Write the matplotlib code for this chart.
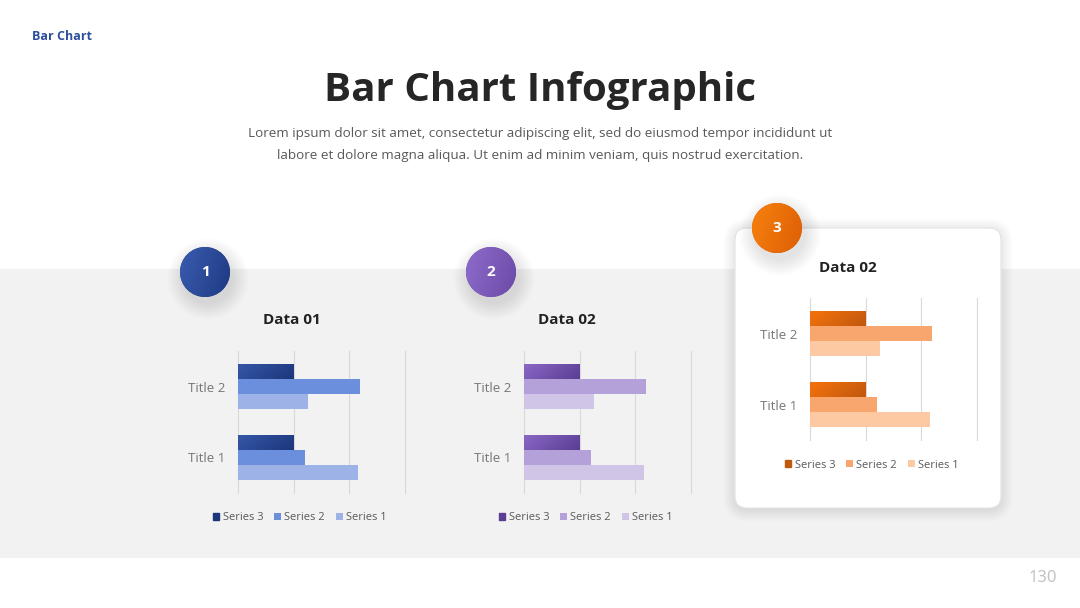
import numpy as np
import matplotlib
matplotlib.use("Agg")
import matplotlib.pyplot as plt
from matplotlib.patches import Rectangle, Circle, FancyBboxPatch
from matplotlib.colors import LinearSegmentedColormap

plt.rcParams["font.family"] = ["Open Sans", "DejaVu Sans"]

# ---------- data ---------- #
categories = ["Title 1", "Title 2"]
series_names = ["Series 1", "Series 2", "Series 3"]
series1 = [4.3, 2.5]
series2 = [2.4, 4.4]
series3 = [2.0, 2.0]
x_ticks = [0, 2, 4, 6]
chart_titles = ["Data 01", "Data 02", "Data 02"]
badges = ["1", "2", "3"]

# ---------- style ---------- #
W, H = 1080, 608
PALETTES = [
    # series1, series2, series3 light, series3 dark
    ("#9db3e8", "#6b8fdc", "#3557a8", "#1c367a"),
    ("#d0c5e6", "#b4a1d9", "#8a68c4", "#5a3d94"),
    ("#fcc9a3", "#f8a66d", "#f5720c", "#c0580e"),
]
BADGE_COLORS = [("#3a5cb0", "#1e3a82"), ("#8f6ccb", "#6a4aa8"), ("#f7810f", "#dd5f05")]
# axes boxes in pixel coords: left, top, right, bottom
AX_BOXES = [(238, 351, 405, 493), (524, 351, 691, 493), (810, 298, 977, 440)]
BADGE_POS = [(205, 272), (491, 272), (777, 228)]
TITLE_POS = [(292, 320), (567, 320), (848, 268)]
LEGEND_X = [0.37, 0.37, 0.37]

fig = plt.figure(figsize=(W / 100, H / 100), dpi=100)
bg = fig.add_axes([0, 0, 1, 1])
bg.set_xlim(0, W)
bg.set_ylim(H, 0)
bg.axis("off")

# gray band
bg.add_patch(Rectangle((0, 269), W, 289, facecolor="#f2f2f2", edgecolor="none", zorder=0))

# card for the third chart (with soft shadow)
cx0, cy0, cw, ch = 735, 228, 266, 280
for i in range(8):
    g = 1 + i * 1.6
    bg.add_patch(FancyBboxPatch((cx0 - g + 1, cy0 - g + 3), cw + 2 * g - 2, ch + 2 * g - 2,
                                boxstyle="round,pad=0,rounding_size=%.1f" % (12 + g),
                                facecolor="#000000", edgecolor="none", alpha=0.012, zorder=1))
bg.add_patch(FancyBboxPatch((cx0, cy0), cw, ch, boxstyle="round,pad=0,rounding_size=12",
                            facecolor="white", edgecolor="#e3e3e3", linewidth=0.8, zorder=2))


def gradient_fill(ax, patch, c_light, c_dark, extent, zorder):
    cmap = LinearSegmentedColormap.from_list("g", [c_light, c_dark])
    xx, yy = np.meshgrid(np.linspace(0, 1, 64), np.linspace(0, 1, 64))
    grad = 0.75 * xx + 0.25 * yy
    im = ax.imshow(grad, extent=extent, cmap=cmap, aspect="auto",
                   interpolation="bilinear", zorder=zorder, origin="upper")
    im.set_clip_path(patch)


# badges
for (bx, by), lab, (cl, cd) in zip(BADGE_POS, badges, BADGE_COLORS):
    for i in range(14):
        r = 25 + i * 1.2
        bg.add_patch(Circle((bx + 3, by + 7), r, facecolor="#000000", edgecolor="none",
                            alpha=0.009, zorder=3))
    c = Circle((bx, by), 25, facecolor=cd, edgecolor="none", zorder=4)
    bg.add_patch(c)
    gradient_fill(bg, c, cl, cd, (bx - 25, bx + 25, by + 25, by - 25), 5)
    bg.text(bx, by, lab, color="white", fontsize=11, fontweight="bold",
            ha="center", va="center", zorder=6)
bg.set_xlim(0, W)
bg.set_ylim(H, 0)

# headers
bg.text(32, 36, "Bar Chart", color="#2e4f9c", fontsize=9, fontweight="bold",
        ha="left", va="center")
bg.text(540, 101, "Bar Chart Infographic", color="#262626", fontsize=29, fontweight="bold",
        ha="center", va="baseline")
bg.text(540, 134, "Lorem ipsum dolor sit amet, consectetur adipiscing elit, sed do eiusmod tempor incididunt ut",
        color="#595959", fontsize=9.7, ha="center", va="center")
bg.text(540, 156, "labore et dolore magna aliqua. Ut enim ad minim veniam, quis nostrud exercitation.",
        color="#595959", fontsize=9.7, ha="center", va="center")
bg.text(1057, 578, "130", color="#bfbfbf", fontsize=12, ha="right", va="center")

for (tx, ty), t in zip(TITLE_POS, chart_titles):
    bg.text(tx, ty, t, color="#222222", fontsize=11, fontweight="bold", ha="center", va="center")

# ---------- the three bar charts ---------- #
y = np.arange(len(categories))
bh = 0.207
for k, (l, t, r, b) in enumerate(AX_BOXES):
    c1, c2, c3l, c3d = PALETTES[k]
    ax = fig.add_axes([l / W, 1 - b / H, (r - l) / W, (b - t) / H])
    ax.set_facecolor("none")
    b1 = ax.barh(y - bh, series1, height=bh, color=c1, label=series_names[0], zorder=2)
    b2 = ax.barh(y, series2, height=bh, color=c2, label=series_names[1], zorder=2)
    b3 = ax.barh(y + bh, series3, height=bh, color=c3d, label=series_names[2], zorder=2)
    for p in b3.patches:
        x0, y0 = p.get_x(), p.get_y()
        gradient_fill(ax, p, c3l, c3d, (x0, x0 + p.get_width(), y0, y0 + p.get_height()), 3)
    ax.set_xlim(x_ticks[0], x_ticks[-1])
    ax.set_ylim(-0.5, len(categories) - 0.5)
    ax.set_xticks(x_ticks)
    ax.set_xticklabels([])
    ax.set_yticks(y)
    ax.set_yticklabels(categories, color="#767676", fontsize=9.5)
    ax.tick_params(length=0, pad=9)
    ax.grid(axis="x", color="#d9d9d9", linewidth=0.8, zorder=0)
    for gl in ax.get_xgridlines():
        gl.set_clip_on(False)
    for s in ax.spines.values():
        s.set_visible(False)
    leg = ax.legend([b3, b2, b1], [series_names[2], series_names[1], series_names[0]],
                    loc="center", bbox_to_anchor=(LEGEND_X[k], -25 / (b - t)), ncol=3,
                    frameon=False, fontsize=8, handlelength=0.6, handleheight=0.6,
                    handletextpad=0.3, columnspacing=1.0, labelcolor="#595959")
    leg.legend_handles[0].set_color(c3d)

fig.savefig("out.png", dpi=100)
